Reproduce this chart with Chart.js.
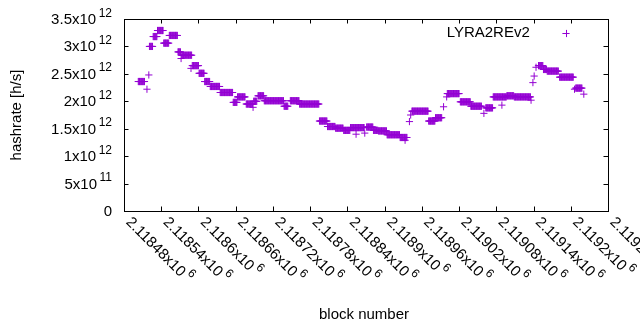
<!DOCTYPE html>
<html>
<head>
<meta charset="utf-8">
<title>LYRA2REv2 hashrate</title>
<script src="https://cdn.jsdelivr.net/npm/chart.js"></script>
<style>
  body { margin: 0; background: #fff; }
  #wrap { width: 640px; height: 330px; }
</style>
</head>
<body>
<div id="wrap"><canvas id="hashChart" width="640" height="330"></canvas></div>
<script>
// runs of blocks with the same hashrate (first block, last block, rate in 10^12 h/s)
const runFirst = [2118503, 2118517, 2118520, 2118521, 2118527, 2118534, 2118544, 2118553, 2118567, 2118572,
  2118573, 2118588, 2118590, 2118601, 2118610, 2118619, 2118635, 2118656, 2118663, 2118677,
  2118688, 2118689, 2118696, 2118706, 2118738, 2118748, 2118763, 2118795, 2118808, 2118821,
  2118834, 2118845, 2118854, 2118868, 2118871, 2118882, 2118890, 2118904, 2118925, 2118933,
  2118940, 2118942, 2118944, 2118971, 2118982, 2118995, 2119000, 2119001, 2119022, 2119039,
  2119060, 2119063, 2119075, 2119089, 2119097, 2119109, 2119136, 2119139, 2119141, 2119144,
  2119148, 2119156, 2119162, 2119182, 2119206, 2119208, 2119221];
const runLast = [2118513, 2118517, 2118520, 2118526, 2118533, 2118543, 2118552, 2118566, 2118571, 2118572,
  2118589, 2118588, 2118600, 2118609, 2118618, 2118634, 2118655, 2118662, 2118675, 2118687,
  2118688, 2118694, 2118705, 2118737, 2118744, 2118762, 2118794, 2118807, 2118820, 2118833,
  2118844, 2118867, 2118854, 2118868, 2118881, 2118889, 2118903, 2118924, 2118936, 2118933,
  2118940, 2118942, 2118970, 2118981, 2118992, 2118995, 2119000, 2119020, 2119038, 2119056,
  2119060, 2119074, 2119096, 2119089, 2119108, 2119135, 2119136, 2119139, 2119141, 2119144,
  2119155, 2119161, 2119180, 2119204, 2119206, 2119218, 2119221];
const runRate = [2.36, 2.22, 2.48, 3.00, 3.18, 3.29, 3.06, 3.20, 2.90, 2.78,
  2.84, 2.60, 2.65, 2.51, 2.36, 2.27, 2.16, 1.98, 2.08, 1.95,
  1.89, 2.00, 2.10, 2.01, 1.91, 2.01, 1.95, 1.64, 1.54, 1.51,
  1.47, 1.52, 1.40, 1.42, 1.53, 1.47, 1.46, 1.39, 1.34, 1.29,
  1.63, 1.75, 1.82, 1.64, 1.70, 1.90, 2.08, 2.14, 1.99, 1.91,
  1.78, 1.88, 2.08, 1.93, 2.10, 2.08, 2.02, 2.34, 2.46, 2.62,
  2.65, 2.58, 2.55, 2.44, 2.22, 2.24, 2.13];

const yTicks = [0, 5e11, 1e12, 1.5e12, 2e12, 2.5e12, 3e12, 3.5e12];
const yTickText = ['0', '5x10', '1x10', '1.5x10', '2x10', '2.5x10', '3x10', '3.5x10'];
const yTickExp = ['', '11', '12', '12', '12', '12', '12', '12'];
const xTicks = [2118480, 2118540, 2118600, 2118660, 2118720, 2118780, 2118840, 2118900,
  2118960, 2119020, 2119080, 2119140, 2119200, 2119260];
const xTickText = ['2.11848x10', '2.11854x10', '2.1186x10', '2.11866x10', '2.11872x10', '2.11878x10', '2.11884x10',
  '2.1189x10', '2.11896x10', '2.11902x10', '2.11908x10', '2.11914x10', '2.1192x10', '2.11926x10'];
const xTickExp = '6';

const purple = '#9400d3';
const font = '"Liberation Sans", Arial, sans-serif';

// one point per block in every run
const points = [];
for (let i = 0; i < runFirst.length; i++) {
  for (let b = runFirst[i]; b <= runLast[i]; b++) {
    points.push({x: b, y: runRate[i] * 1e12});
  }
}

const gnuplotFrame = {
  id: 'gnuplotFrame',
  afterDraw(chart) {
    const ctx = chart.ctx;
    const a = chart.chartArea;
    const xs = chart.scales.x, ys = chart.scales.y;
    const tl = 4.5;
    ctx.save();
    ctx.strokeStyle = '#000';
    ctx.lineWidth = 1;
    ctx.beginPath();
    // ticks on all four sides, pointing in
    yTicks.forEach(v => {
      const y = Math.round(ys.getPixelForValue(v)) + 0.5;
      ctx.moveTo(a.left, y); ctx.lineTo(a.left + tl, y);
      ctx.moveTo(a.right, y); ctx.lineTo(a.right - tl, y);
    });
    xTicks.forEach(v => {
      const x = Math.round(xs.getPixelForValue(v)) + 0.5;
      ctx.moveTo(x, a.bottom); ctx.lineTo(x, a.bottom - tl);
      ctx.moveTo(x, a.top); ctx.lineTo(x, a.top + tl);
    });
    ctx.stroke();
    ctx.strokeRect(Math.round(a.left) + 0.5, Math.round(a.top) + 0.5,
      Math.round(a.right - a.left), Math.round(a.bottom - a.top));

    ctx.fillStyle = '#000';
    // y tick labels
    yTicks.forEach((v, i) => {
      const y = ys.getPixelForValue(v);
      ctx.font = '12px ' + font;
      const we = yTickExp[i] ? ctx.measureText(yTickExp[i]).width + 2.5 : 0;
      ctx.font = '15px ' + font;
      const wm = ctx.measureText(yTickText[i]).width;
      const right = 112;
      ctx.textAlign = 'left';
      ctx.textBaseline = 'alphabetic';
      ctx.fillText(yTickText[i], right - we - wm, y + 5);
      if (yTickExp[i]) {
        ctx.font = '12px ' + font;
        ctx.fillText(yTickExp[i], right - we + 2.5, y - 2.5);
      }
    });
    // x tick labels, rotated
    xTicks.forEach((v, i) => {
      const x = xs.getPixelForValue(v);
      ctx.save();
      ctx.translate(x + 4.8, a.bottom + 8.2);
      ctx.rotate(Math.PI / 4);
      ctx.font = '15px ' + font;
      ctx.textAlign = 'left';
      ctx.textBaseline = 'alphabetic';
      const wm = ctx.measureText(xTickText[i]).width;
      ctx.fillText(xTickText[i], 0, 5);
      ctx.font = '12px ' + font;
      ctx.fillText(xTickExp, wm + 2.5, -2.5);
      ctx.restore();
    });
    // axis titles
    ctx.font = '15px ' + font;
    ctx.textAlign = 'center';
    ctx.textBaseline = 'middle';
    ctx.fillText('block number', 364, 315);
    ctx.save();
    ctx.translate(17, 115);
    ctx.rotate(-Math.PI / 2);
    ctx.fillText('hashrate [h/s]', 0, 0);
    ctx.restore();
    // key
    ctx.textAlign = 'left';
    ctx.fillText('LYRA2REv2', 446.7, 32.5);
    ctx.strokeStyle = purple;
    ctx.beginPath();
    ctx.moveTo(562.4, 33.5); ctx.lineTo(569.6, 33.5);
    ctx.moveTo(566.5, 29.9); ctx.lineTo(566.5, 37.1);
    ctx.stroke();
    ctx.restore();
  }
};

new Chart(document.getElementById('hashChart'), {
  type: 'scatter',
  data: {
    datasets: [{
      label: 'LYRA2REv2',
      data: points,
      pointStyle: 'cross',
      pointRadius: 3.6,
      pointHoverRadius: 3.6,
      borderColor: purple,
      backgroundColor: purple,
      borderWidth: 1,
    }],
  },
  options: {
    responsive: false,
    animation: false,
    events: [],
    layout: { padding: { top: 19, right: 32, left: 0, bottom: 0 } },
    plugins: {
      legend: { display: false },
      tooltip: { enabled: false },
    },
    scales: {
      x: {
        type: 'linear',
        min: 2118480,
        max: 2119260,
        ticks: { display: false },
        grid: { display: false },
        border: { display: false },
        afterFit(s) { s.height = 119; },
      },
      y: {
        min: 0,
        max: 3.5e12,
        ticks: { display: false },
        grid: { display: false },
        border: { display: false },
        afterFit(s) { s.width = 124; },
      },
    },
  },
  plugins: [gnuplotFrame],
});
</script>
</body>
</html>
